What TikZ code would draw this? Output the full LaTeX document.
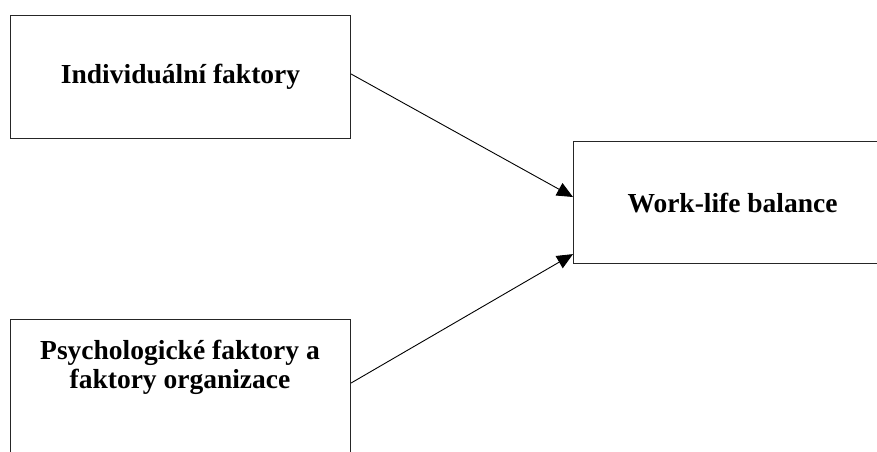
\documentclass[tikz,border=0pt]{standalone}
\usepackage{fontspec}
\setmainfont{Liberation Serif}
\usetikzlibrary{arrows.meta,calc}
\begin{document}
\begin{tikzpicture}[x=1pt,y=1pt,
  box/.style={draw=black!85, line width=1.1pt, rectangle, inner sep=0pt},
  lbl/.style={font=\bfseries\fontsize{27.5}{29}\selectfont, align=center, inner sep=0pt},
  conn/.style={line width=0.9pt, -{Triangle[length=16pt,width=14pt]}}]
\useasboundingbox (0,0) rectangle (877,-451);
\clip (0,0) rectangle (877,-451);
\fill[white] (0,0) rectangle (877,-451);
\node[box, anchor=north west, minimum width=340pt, minimum height=123pt,
      lbl] (ind) at (10,-15) {Individuální faktory};
\node[box, anchor=north west, minimum width=318pt, minimum height=122pt,
      lbl] (wlb) at (573,-141) {Work-life balance};
\node[box, anchor=north west, minimum width=340pt, minimum height=160pt] (psy) at (10,-319) {};
\node[lbl] (psyt) at (180,-367) {Psychologické faktory a\\faktory organizace};
\draw[conn] ($(ind.north east)+(0,-59)$) -- ($(wlb.north west)+(0,-56)$);
\draw[conn] ($(psy.north east)+(0,-64)$) -- ($(wlb.south west)+(0,10)$);
\end{tikzpicture}
\end{document}
